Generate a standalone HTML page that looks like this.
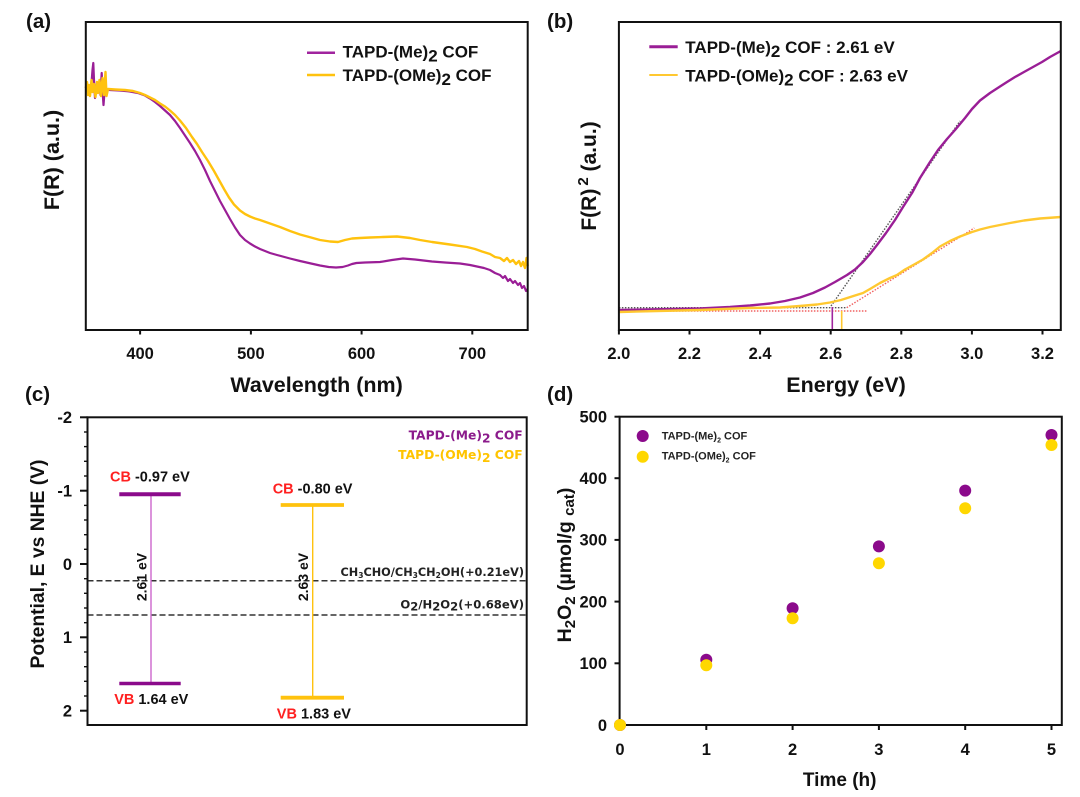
<!DOCTYPE html>
<html>
<head>
<meta charset="utf-8">
<style>
  html, body { margin: 0; padding: 0; background: #ffffff; }
  svg { display: block; }
</style>
</head>
<body>
<svg width="1080" height="797" viewBox="0 0 1080 797" xmlns="http://www.w3.org/2000/svg" font-family="'Liberation Sans', Arial, sans-serif" font-weight="bold">
  <rect x="0" y="0" width="1080" height="797" fill="#ffffff"/>

  <!-- ================= Panel (a) ================= -->
  <text x="26" y="28" font-size="20.5" fill="#111">(a)</text>
  <!-- curves -->
  <path fill="none" stroke="#9A1E96" stroke-width="2.2" stroke-linejoin="round" d="M85.8,88 L87,84 L88,92 L89.5,86 L91,90 L92.5,70 L93.3,63 L94,80 L95,98 L96.5,86 L98,92 L99.5,84 L100.5,95 L101.7,73 L102.5,90 L103.5,105 L104.5,92 L106,89 L110,90 L120,90.5 L130,91.5 L138,93 L145,95.5 L150,98.5 L155,102 L160,106 L165,110.5 L170,115 L175,121 L180,128 L185,135.5 L190,143 L195,151 L200,160 L205,170 L210,181 L215,191 L220,201 L225,210 L230,219 L235,227.5 L240,235 L245,240 L250,243.5 L255,246.5 L260,249 L265,251 L270,253 L277,255 L290,258.5 L300,261 L311,263.5 L320,265.5 L328.7,267 L336,267.5 L342.6,267 L348,265.5 L352,264 L356.4,263 L365,262.5 L380,262 L392,260 L403,258.5 L415,259.5 L432,261.5 L445,262.5 L460,263.5 L470,265 L484,268 L490,270 L495,273 L500,275 L503,278 L505,276 L508,281 L510,279 L513,283 L515,281 L518,285 L520,283 L522,288 L524,286 L526,291 L527.7,289"/>
  <path fill="none" stroke="#FFC20E" stroke-width="2.4" stroke-linejoin="round" d="M85.8,88 L87,82 L88,95 L89,85 L90,96 L91.5,80 L92.5,92 L94,84 L95.5,97 L97,82 L98,93 L99.5,80 L101,96 L102.5,78 L104,95 L105.5,72 L106.5,96 L108,89 L115,89.5 L125,90 L133,91 L140,93 L145,95 L150,97.5 L155,100 L160,103.5 L165,106.5 L170,110.5 L175,115 L180,120.5 L186,128 L192,137 L197,144 L202,152 L208,161 L214,171 L219,180 L224,189 L229,197.5 L234,204.5 L240,210.5 L245,214 L250,216.5 L255,218.5 L260,220 L270,223.5 L280,227 L290,231 L300,234.5 L311,237.5 L320,240 L330,241.5 L338,242 L345,240 L352,238.5 L360,238 L370,237.5 L383,237 L397,236.5 L410,238 L420,240 L432,242 L450,244.5 L467,247 L475,249 L482,251.5 L490,254 L495,257 L500,258 L504,261 L507,258 L510,262 L513,260 L516,264 L519,261 L521,266 L523,262 L525,268 L526.5,258 L527.7,266"/>
  <!-- frame -->
  <rect x="85.8" y="22" width="441.9" height="308" fill="none" stroke="#111" stroke-width="2"/>
  <!-- x ticks -->
  <g stroke="#111" stroke-width="2">
    <line x1="140.1" y1="330" x2="140.1" y2="334.5"/>
    <line x1="250.9" y1="330" x2="250.9" y2="334.5"/>
    <line x1="361.6" y1="330" x2="361.6" y2="334.5"/>
    <line x1="472.3" y1="330" x2="472.3" y2="334.5"/>
  </g>
  <g font-size="16.5" fill="#111" text-anchor="middle">
    <text x="140.1" y="359">400</text>
    <text x="250.9" y="359">500</text>
    <text x="361.6" y="359">600</text>
    <text x="472.3" y="359">700</text>
  </g>
  <text x="316.6" y="392" font-size="21.5" text-anchor="middle" fill="#111">Wavelength (nm)</text>
  <text transform="translate(59,160) rotate(-90)" font-size="21.5" text-anchor="middle" fill="#111">F(R) (a.u.)</text>
  <!-- legend a -->
  <line x1="307" y1="52.7" x2="335" y2="52.7" stroke="#A0249E" stroke-width="2.5"/>
  <line x1="307" y1="75" x2="335" y2="75" stroke="#FFC20E" stroke-width="2.5"/>
  <text x="342.6" y="57.5" font-size="17" fill="#111">TAPD-(Me)<tspan dy="4">2</tspan><tspan dy="-4"> COF</tspan></text>
  <text x="342.6" y="81" font-size="17" fill="#111">TAPD-(OMe)<tspan dy="4">2</tspan><tspan dy="-4"> COF</tspan></text>

  <!-- ================= Panel (b) ================= -->
  <text x="547" y="28" font-size="20.5" fill="#111">(b)</text>
  <!-- dotted fit lines -->
  <g fill="none" stroke-width="1.4" stroke-dasharray="1.5,1.5">
    <line x1="618.9" y1="307.7" x2="846.7" y2="307.7" stroke="#555"/>
    <line x1="618.9" y1="311" x2="866.7" y2="311" stroke="#F06060"/>
    <line x1="831" y1="306" x2="960" y2="121" stroke="#555"/>
    <line x1="846.7" y1="307.7" x2="974.3" y2="228" stroke="#F06060"/>
  </g>
  <path fill="none" stroke="#9A1E96" stroke-width="2.4" stroke-linejoin="round" d="M618.9,310 L650,309.5 L700,308.5 L730,307 L750,305.5 L770,303.5 L785,301 L800,297.5 L813,293 L825,287.5 L835,282 L847,275 L855,269.5 L863,262 L870,254 L877,245 L886,233 L895,220 L903,207 L912,193 L920,178 L930,162 L938,150 L947,139 L955,130 L965,118 L972,109 L980,100.5 L990,93 L1000,86.5 L1007,82 L1015,77 L1024,72 L1033,67 L1042,62 L1050,57 L1060.8,51"/>
  <path fill="none" stroke="#FFC830" stroke-width="2.4" stroke-linejoin="round" d="M618.9,312 L700,310 L748,308 L780,307.5 L800,306 L817,304.5 L830,302.5 L841,300 L855,295.5 L863,293 L870,289 L880,283 L890,278 L897,275 L905,269.5 L915,264 L923,259.5 L932,253 L940,246.5 L950,241 L960,236.5 L972,232 L980,229.5 L990,227 L1000,225 L1010,223 L1024,220.5 L1040,218.5 L1060.8,217"/>
  <line x1="832.3" y1="307" x2="832.3" y2="330" stroke="#A0249E" stroke-width="1.6"/>
  <line x1="841.7" y1="311" x2="841.7" y2="330" stroke="#FFC830" stroke-width="1.6"/>
  <!-- frame -->
  <rect x="618.9" y="22" width="441.9" height="308" fill="none" stroke="#111" stroke-width="2"/>
  <g stroke="#111" stroke-width="2">
    <line x1="618.9" y1="330" x2="618.9" y2="334.5"/>
    <line x1="689.5" y1="330" x2="689.5" y2="334.5"/>
    <line x1="760.1" y1="330" x2="760.1" y2="334.5"/>
    <line x1="830.7" y1="330" x2="830.7" y2="334.5"/>
    <line x1="901.3" y1="330" x2="901.3" y2="334.5"/>
    <line x1="971.9" y1="330" x2="971.9" y2="334.5"/>
    <line x1="1042.5" y1="330" x2="1042.5" y2="334.5"/>
  </g>
  <g font-size="16.5" fill="#111" text-anchor="middle">
    <text x="618.9" y="359">2.0</text>
    <text x="689.5" y="359">2.2</text>
    <text x="760.1" y="359">2.4</text>
    <text x="830.7" y="359">2.6</text>
    <text x="901.3" y="359">2.8</text>
    <text x="971.9" y="359">3.0</text>
    <text x="1042.5" y="359">3.2</text>
  </g>
  <text x="846" y="392" font-size="21.5" text-anchor="middle" fill="#111">Energy (eV)</text>
  <text transform="translate(596,176) rotate(-90)" font-size="21" text-anchor="middle" fill="#111">F(R)<tspan dx="3" dy="-8" font-size="15">2</tspan><tspan dy="8"> (a.u.)</tspan></text>
  <!-- legend b -->
  <line x1="649.3" y1="46.7" x2="677.7" y2="46.7" stroke="#9A1E96" stroke-width="3"/>
  <line x1="649.3" y1="75" x2="677.7" y2="75" stroke="#FFC830" stroke-width="2"/>
  <text x="685.3" y="53" font-size="17" fill="#111">TAPD-(Me)<tspan dy="4">2</tspan><tspan dy="-4"> COF : 2.61 eV</tspan></text>
  <text x="685.3" y="81.5" font-size="17" fill="#111">TAPD-(OMe)<tspan dy="4">2</tspan><tspan dy="-4"> COF : 2.63 eV</tspan></text>

  <!-- ================= Panel (c) ================= -->
  <text x="25" y="401" font-size="20.5" fill="#111">(c)</text>
  <!-- dashed reference lines -->
  <g stroke="#333" stroke-width="1.5" stroke-dasharray="6,3">
    <line x1="87.5" y1="580.7" x2="526.7" y2="580.7"/>
    <line x1="87.5" y1="615" x2="526.7" y2="615"/>
  </g>
  <!-- band edges -->
  <line x1="151" y1="494" x2="151" y2="683.5" stroke="#CC66CC" stroke-width="1.4"/>
  <line x1="312.7" y1="505" x2="312.7" y2="697.7" stroke="#FFC20E" stroke-width="1.4"/>
  <line x1="119.3" y1="494.3" x2="180.7" y2="494.3" stroke="#8B0A8B" stroke-width="4"/>
  <line x1="119.3" y1="683.5" x2="180.7" y2="683.5" stroke="#8B0A8B" stroke-width="3.5"/>
  <line x1="280.7" y1="505" x2="344" y2="505" stroke="#FFC20E" stroke-width="3.8"/>
  <line x1="280.7" y1="697.7" x2="344" y2="697.7" stroke="#FFC20E" stroke-width="3.8"/>
  <!-- frame -->
  <rect x="87.5" y="417.3" width="439.2" height="307.7" fill="none" stroke="#111" stroke-width="2"/>
  <g stroke="#111" stroke-width="2">
    <line x1="80" y1="417.3" x2="87.5" y2="417.3"/>
    <line x1="80" y1="490.7" x2="87.5" y2="490.7"/>
    <line x1="80" y1="564" x2="87.5" y2="564"/>
    <line x1="80" y1="637.3" x2="87.5" y2="637.3"/>
    <line x1="80" y1="710.7" x2="87.5" y2="710.7"/>
  </g>
  <g stroke="#111" stroke-width="1.4">
    <line x1="84" y1="432" x2="87.5" y2="432"/>
    <line x1="84" y1="446.6" x2="87.5" y2="446.6"/>
    <line x1="84" y1="461.3" x2="87.5" y2="461.3"/>
    <line x1="84" y1="476" x2="87.5" y2="476"/>
    <line x1="84" y1="505.4" x2="87.5" y2="505.4"/>
    <line x1="84" y1="520" x2="87.5" y2="520"/>
    <line x1="84" y1="534.7" x2="87.5" y2="534.7"/>
    <line x1="84" y1="549.3" x2="87.5" y2="549.3"/>
    <line x1="84" y1="578.7" x2="87.5" y2="578.7"/>
    <line x1="84" y1="593.3" x2="87.5" y2="593.3"/>
    <line x1="84" y1="608" x2="87.5" y2="608"/>
    <line x1="84" y1="622.7" x2="87.5" y2="622.7"/>
    <line x1="84" y1="652" x2="87.5" y2="652"/>
    <line x1="84" y1="666.7" x2="87.5" y2="666.7"/>
    <line x1="84" y1="681.3" x2="87.5" y2="681.3"/>
    <line x1="84" y1="696" x2="87.5" y2="696"/>
  </g>
  <g font-size="16.5" fill="#111" text-anchor="end">
    <text x="72" y="423">-2</text>
    <text x="72" y="496.5">-1</text>
    <text x="72" y="569.8">0</text>
    <text x="72" y="643">1</text>
    <text x="72" y="716.5">2</text>
  </g>
  <text transform="translate(44,564) rotate(-90)" font-size="19.3" text-anchor="middle" fill="#111">Potential, E vs NHE (V)</text>
  <!-- CB / VB labels -->
  <g font-size="14.5" fill="#111">
    <text x="110" y="481.7"><tspan fill="#FF2020">CB</tspan> -0.97 eV</text>
    <text x="272.7" y="493.3"><tspan fill="#FF2020">CB</tspan> -0.80 eV</text>
    <text x="114.2" y="704"><tspan fill="#FF2020">VB</tspan> 1.64 eV</text>
    <text x="276.8" y="718.3"><tspan fill="#FF2020">VB</tspan> 1.83 eV</text>
  </g>
  <text transform="translate(146.5,577) rotate(-90)" font-size="14" text-anchor="middle" fill="#111">2.61 eV</text>
  <text transform="translate(308,577) rotate(-90)" font-size="14" text-anchor="middle" fill="#111">2.63 eV</text>
  <!-- right labels -->
  <g font-family="'DejaVu Sans', Verdana, sans-serif" font-weight="bold" text-anchor="end">
    <text x="522.7" y="439.5" font-size="12.3" fill="#8B1A8B">TAPD-(Me)<tspan dy="3">2</tspan><tspan dy="-3"> COF</tspan></text>
    <text x="522.7" y="459" font-size="12.3" fill="#FFC400">TAPD-(OMe)<tspan dy="3">2</tspan><tspan dy="-3"> COF</tspan></text>
    <text x="524" y="576" font-size="11.3" fill="#222">CH<tspan font-size="7.5" dy="2">3</tspan><tspan dy="-2">CHO/CH</tspan><tspan font-size="7.5" dy="2">3</tspan><tspan dy="-2">CH</tspan><tspan font-size="7.5" dy="2">2</tspan><tspan dy="-2">OH(+0.21eV)</tspan></text>
    <text x="524" y="608.3" font-size="11.6" fill="#222">O<tspan dy="2">2</tspan><tspan dy="-2">/H</tspan><tspan dy="2">2</tspan><tspan dy="-2">O</tspan><tspan dy="2">2</tspan><tspan dy="-2">(+0.68eV)</tspan></text>
  </g>

  <!-- ================= Panel (d) ================= -->
  <text x="547" y="401" font-size="20.5" fill="#111">(d)</text>
  <rect x="619.6" y="416.7" width="442.2" height="308.3" fill="none" stroke="#111" stroke-width="2"/>
  <g stroke="#111" stroke-width="2">
    <line x1="614.5" y1="416.7" x2="619.6" y2="416.7"/>
    <line x1="614.5" y1="478.2" x2="619.6" y2="478.2"/>
    <line x1="614.5" y1="539.9" x2="619.6" y2="539.9"/>
    <line x1="614.5" y1="601.6" x2="619.6" y2="601.6"/>
    <line x1="614.5" y1="663.3" x2="619.6" y2="663.3"/>
    <line x1="614.5" y1="725" x2="619.6" y2="725"/>
    <line x1="620" y1="725" x2="620" y2="730"/>
    <line x1="706.3" y1="725" x2="706.3" y2="730"/>
    <line x1="792.6" y1="725" x2="792.6" y2="730"/>
    <line x1="878.9" y1="725" x2="878.9" y2="730"/>
    <line x1="965.2" y1="725" x2="965.2" y2="730"/>
    <line x1="1051.5" y1="725" x2="1051.5" y2="730"/>
  </g>
  <g font-size="16.5" fill="#111" text-anchor="end">
    <text x="607" y="422.5">500</text>
    <text x="607" y="484">400</text>
    <text x="607" y="545.7">300</text>
    <text x="607" y="607.4">200</text>
    <text x="607" y="669.1">100</text>
    <text x="607" y="730.8">0</text>
  </g>
  <g font-size="16.5" fill="#111" text-anchor="middle">
    <text x="620" y="755">0</text>
    <text x="706.3" y="755">1</text>
    <text x="792.6" y="755">2</text>
    <text x="878.9" y="755">3</text>
    <text x="965.2" y="755">4</text>
    <text x="1051.5" y="755">5</text>
  </g>
  <text x="839.7" y="786" font-size="19" text-anchor="middle" fill="#111">Time (h)</text>
  <text transform="translate(571,565) rotate(-90)" font-size="19.5" text-anchor="middle" fill="#111">H<tspan font-size="15" dy="4">2</tspan><tspan dy="-4">O</tspan><tspan font-size="15" dy="4">2</tspan><tspan dy="-4"> (µmol/g </tspan><tspan font-size="15" dy="3">cat</tspan><tspan dy="-3">)</tspan></text>
  <!-- data points -->
  <g fill="#8B0A8B">
    <circle cx="620" cy="725" r="6"/>
    <circle cx="706.3" cy="659.8" r="6"/>
    <circle cx="792.6" cy="608.3" r="6"/>
    <circle cx="878.9" cy="546.4" r="6"/>
    <circle cx="965.2" cy="490.6" r="6"/>
    <circle cx="1051.5" cy="435" r="6"/>
  </g>
  <g fill="#FFD700">
    <circle cx="620" cy="725" r="6"/>
    <circle cx="706.3" cy="665.2" r="6"/>
    <circle cx="792.6" cy="618.3" r="6"/>
    <circle cx="878.9" cy="563.3" r="6"/>
    <circle cx="965.2" cy="508.3" r="6"/>
    <circle cx="1051.5" cy="445" r="6"/>
  </g>
  <!-- legend d -->
  <circle cx="642.7" cy="436" r="6" fill="#8B0A8B"/>
  <circle cx="642.7" cy="456.7" r="6" fill="#FFD700"/>
  <text x="661.7" y="439.5" font-size="11" fill="#222">TAPD-(Me)<tspan font-size="7" dy="3">2</tspan><tspan dy="-3"> COF</tspan></text>
  <text x="661.7" y="459.5" font-size="11" fill="#222">TAPD-(OMe)<tspan font-size="7" dy="3">2</tspan><tspan dy="-3"> COF</tspan></text>
</svg>
</body>
</html>
